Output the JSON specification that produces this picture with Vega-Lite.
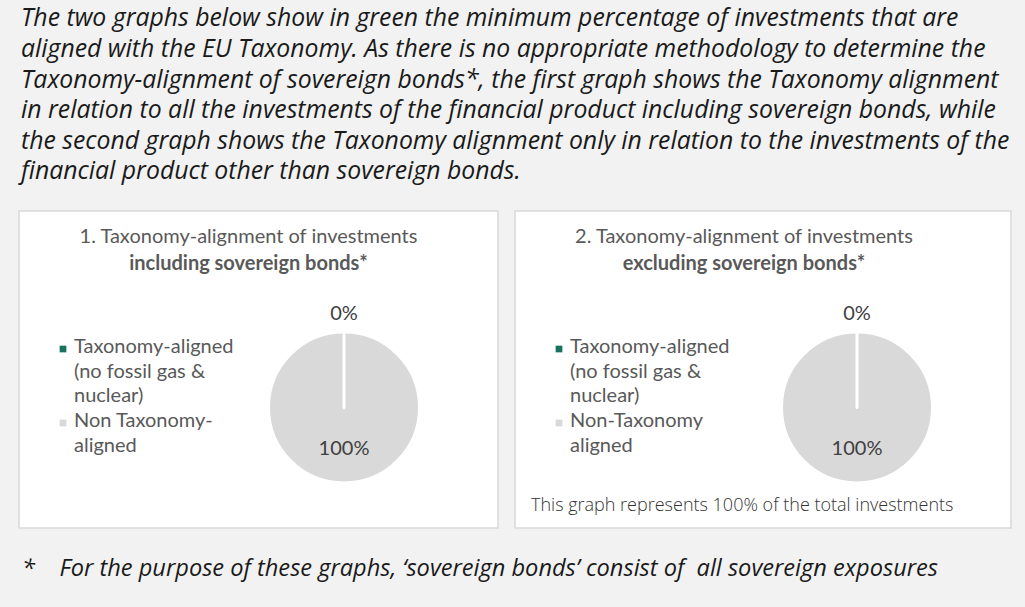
{
  "$schema": "https://vega.github.io/schema/vega-lite/v6.json",
  "background": "#f2f2f2",
  "padding": {"left": 18, "top": 6, "right": 14, "bottom": 35},
  "config": {
    "view": {"stroke": null},
    "font": "Lato",
    "style": {"guide-label": {"lineHeight": 24.5, "dy": -12}}
  },
  "title": {
    "text": [
      "The two graphs below show in green the minimum percentage of investments that are",
      "aligned with the EU Taxonomy. As there is no appropriate methodology to determine the",
      "Taxonomy-alignment of sovereign bonds*, the first graph shows the Taxonomy alignment",
      "in relation to all the investments of the financial product including sovereign bonds, while",
      "the second graph shows the Taxonomy alignment only in relation to the investments of the",
      "financial product other than sovereign bonds."
    ],
    "anchor": "start",
    "frame": "group",
    "font": "Open Sans",
    "fontStyle": "italic",
    "fontWeight": "normal",
    "fontSize": 24.8,
    "lineHeight": 30.6,
    "color": "#1a1a1a",
    "dx": 2,
    "offset": 26
  },
  "vconcat": [
    {
      "spacing": 15,
      "resolve": {
        "scale": {"color": "independent", "theta": "independent"},
        "legend": {"color": "independent"}
      },
      "title": {
        "text": "*\u00a0\u00a0\u00a0\u00a0For the purpose of these graphs, \u2018sovereign bonds\u2019 consist of\u00a0\u00a0all sovereign exposures",
        "orient": "bottom",
        "anchor": "start",
        "frame": "group",
        "font": "Open Sans",
        "fontStyle": "italic",
        "fontWeight": "normal",
        "fontSize": 23.6,
        "color": "#1a1a1a",
        "dx": 3,
        "offset": 28
      },
      "hconcat": [
        {
          "width": 479,
          "height": 317,
          "view": {"fill": "#ffffff", "stroke": "#d9d9d9", "strokeWidth": 1.5},
          "title": {
            "text": "1. Taxonomy-alignment of investments",
            "subtitle": "including sovereign bonds*",
            "anchor": "middle",
            "dx": -10,
            "offset": -63,
            "font": "Lato",
            "fontSize": 20,
            "fontWeight": "normal",
            "color": "#595959",
            "subtitleFont": "Lato",
            "subtitleFontSize": 20,
            "subtitleFontWeight": "bold",
            "subtitleColor": "#595959",
            "subtitlePadding": 7
          },
          "data": {
            "values": [
              {"category": "Non Taxonomy-aligned", "share": 100, "label": "100%", "ord": 2},
              {"category": "Taxonomy-aligned (no fossil gas & nuclear)", "share": 0, "label": "0%", "ord": 1}
            ]
          },
          "layer": [
            {
              "mark": {"type": "arc", "x": 325, "y": 196.5, "outerRadius": 75.5, "stroke": "#ffffff", "strokeWidth": 3, "strokeJoin": "round"},
              "encoding": {
                "theta": {"field": "share", "type": "quantitative", "stack": true},
                "order": {"field": "ord", "type": "quantitative"},
                "color": {
                  "field": "category",
                  "type": "nominal",
                  "scale": {
                    "domain": ["Taxonomy-aligned (no fossil gas & nuclear)", "Non Taxonomy-aligned"],
                    "range": ["#17735f", "#d9d9d9"]
                  },
                  "legend": {
                    "orient": "none",
                    "legendX": 34,
                    "legendY": 128,
                    "title": null,
                    "symbolType": "square",
                    "symbolSize": 45,
                    "symbolStrokeWidth": 0,
                    "labelFont": "Lato",
                    "labelFontSize": 20,
                    "labelColor": "#595959",
                    "labelLimit": 400,
                    "labelOffset": 1,
                    "rowPadding": 5,
                    "labelBaseline": "top",
                    "labelExpr": "datum.label == 'Non Taxonomy-aligned' ? ['Non Taxonomy-', 'aligned'] : ['Taxonomy-aligned', '(no fossil gas &', 'nuclear)']"
                  }
                }
              }
            },
            {
              "mark": {"type": "text", "x": 325, "y": 196.5, "radius": 94, "font": "Lato", "fontSize": 20, "color": "#404040", "align": "center", "baseline": "middle"},
              "encoding": {
                "theta": {"field": "share", "type": "quantitative", "stack": true},
                "order": {"field": "ord", "type": "quantitative"},
                "text": {"condition": {"test": "datum.ord == 1", "field": "label"}, "value": ""}
              }
            },
            {
              "mark": {"type": "text", "x": 325, "y": 196.5, "radius": 41, "font": "Lato", "fontSize": 20, "color": "#404040", "align": "center", "baseline": "middle"},
              "encoding": {
                "theta": {"field": "share", "type": "quantitative", "stack": true},
                "order": {"field": "ord", "type": "quantitative"},
                "text": {"condition": {"test": "datum.ord == 2", "field": "label"}, "value": ""}
              }
            }
          ]
        },
        {
          "width": 496,
          "height": 317,
          "view": {"fill": "#ffffff", "stroke": "#d9d9d9", "strokeWidth": 1.5},
          "title": {
            "text": "2. Taxonomy-alignment of investments",
            "subtitle": "excluding sovereign bonds*",
            "anchor": "middle",
            "dx": -19,
            "offset": -63,
            "font": "Lato",
            "fontSize": 20,
            "fontWeight": "normal",
            "color": "#595959",
            "subtitleFont": "Lato",
            "subtitleFontSize": 20,
            "subtitleFontWeight": "bold",
            "subtitleColor": "#595959",
            "subtitlePadding": 7
          },
          "data": {
            "values": [
              {"category": "Non-Taxonomy aligned", "share": 100, "label": "100%", "ord": 2},
              {"category": "Taxonomy-aligned (no fossil gas & nuclear)", "share": 0, "label": "0%", "ord": 1}
            ]
          },
          "layer": [
            {
              "mark": {"type": "arc", "x": 342, "y": 196.5, "outerRadius": 75.5, "stroke": "#ffffff", "strokeWidth": 3, "strokeJoin": "round"},
              "encoding": {
                "theta": {"field": "share", "type": "quantitative", "stack": true},
                "order": {"field": "ord", "type": "quantitative"},
                "color": {
                  "field": "category",
                  "type": "nominal",
                  "scale": {
                    "domain": ["Taxonomy-aligned (no fossil gas & nuclear)", "Non-Taxonomy aligned"],
                    "range": ["#17735f", "#d9d9d9"]
                  },
                  "legend": {
                    "orient": "none",
                    "legendX": 34,
                    "legendY": 128,
                    "title": null,
                    "symbolType": "square",
                    "symbolSize": 45,
                    "symbolStrokeWidth": 0,
                    "labelFont": "Lato",
                    "labelFontSize": 20,
                    "labelColor": "#595959",
                    "labelLimit": 400,
                    "labelOffset": 1,
                    "rowPadding": 5,
                    "labelBaseline": "top",
                    "labelExpr": "datum.label == 'Non-Taxonomy aligned' ? ['Non-Taxonomy', 'aligned'] : ['Taxonomy-aligned', '(no fossil gas &', 'nuclear)']"
                  }
                }
              }
            },
            {
              "mark": {"type": "text", "x": 342, "y": 196.5, "radius": 94, "font": "Lato", "fontSize": 20, "color": "#404040", "align": "center", "baseline": "middle"},
              "encoding": {
                "theta": {"field": "share", "type": "quantitative", "stack": true},
                "order": {"field": "ord", "type": "quantitative"},
                "text": {"condition": {"test": "datum.ord == 1", "field": "label"}, "value": ""}
              }
            },
            {
              "mark": {"type": "text", "x": 342, "y": 196.5, "radius": 41, "font": "Lato", "fontSize": 20, "color": "#404040", "align": "center", "baseline": "middle"},
              "encoding": {
                "theta": {"field": "share", "type": "quantitative", "stack": true},
                "order": {"field": "ord", "type": "quantitative"},
                "text": {"condition": {"test": "datum.ord == 2", "field": "label"}, "value": ""}
              }
            },
            {
              "data": {"values": [{"note": "This graph represents 100% of the total investments"}]},
              "mark": {"type": "text", "x": 16, "y": 295, "align": "left", "baseline": "middle", "font": "Open Sans", "fontWeight": 300, "fontSize": 18, "color": "#333333"},
              "encoding": {"text": {"field": "note", "type": "nominal"}}
            }
          ]
        }
      ]
    }
  ]
}
